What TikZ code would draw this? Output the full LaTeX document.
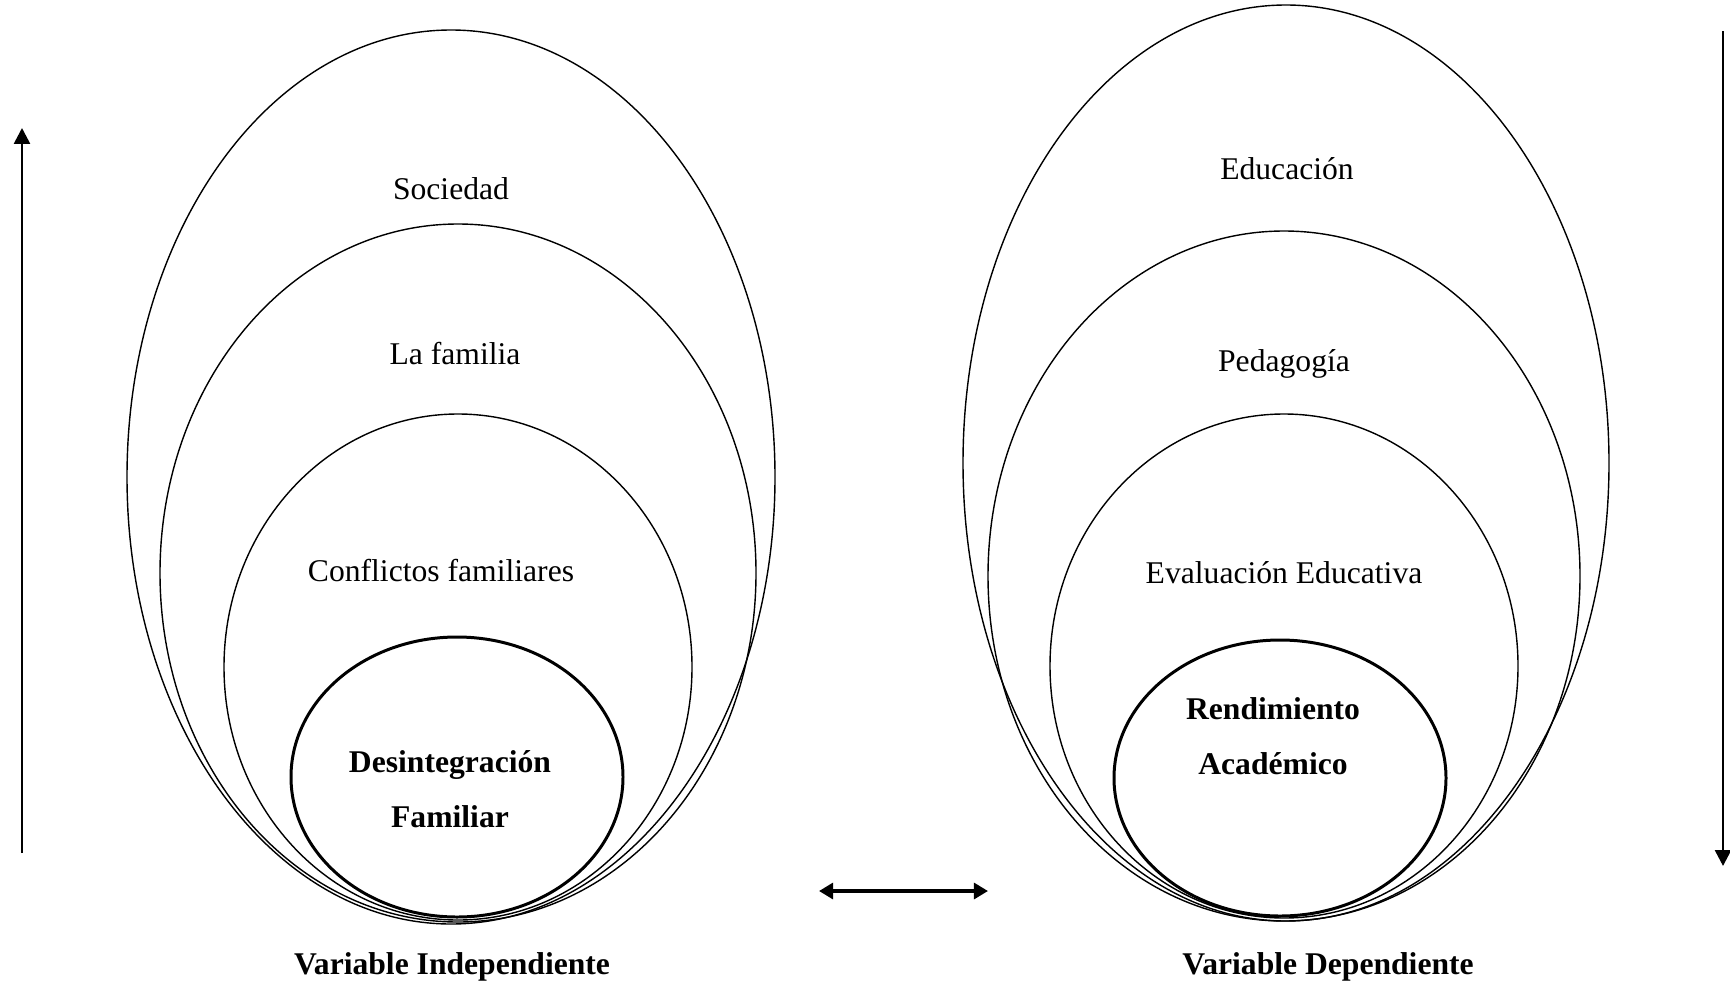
\documentclass[tikz,border=0pt]{standalone}
\usepackage{fontspec}
\setmainfont{Liberation Serif}
\usetikzlibrary{
  arrows.meta
}

\begin{document}
\begin{tikzpicture}[x=0.02cm, y=-0.02cm,
    ring/.style={line width=0.8pt},
    core/.style={line width=1.7pt},
    lbl/.style={anchor=base, inner sep=0pt, font=\fontsize{18}{22}\selectfont},
    blbl/.style={lbl, font=\fontsize{18}{22}\selectfont\bfseries},
    flow/.style={line width=1.5pt, -{Triangle[width=9pt,length=9pt]}},
    both/.style={line width=2pt, {Triangle[width=9pt,length=8pt]}-{Triangle[width=9pt,length=8pt]}}]
  \def\Xl{451};
  \def\Xr{1284};
  \def\Ycap{974};
  \useasboundingbox (0,0) rectangle (1730,984);

  % left side
        \draw[ring] (\Xl, 477) ellipse [x radius=324, y radius=447];
        \draw[ring] (\Xl + 7, 573) ellipse [x radius=298, y radius=349];
        \draw[ring] (\Xl + 7, 667) ellipse [x radius=234, y radius=253];
        \draw[core] (\Xl + 6, 777) ellipse [x radius=166, y radius=140];

        \node[lbl] (sociedad) at (\Xl, 199) {Sociedad};
        \node[lbl] (familia) at (\Xl + 4, 364) {La familia};
        \node[lbl] (conflictos) at (\Xl - 10, 581) {Conflictos familiares};
        \node[blbl] (desintA) at (\Xl - 1, 772) {Desintegración};
        \node[blbl] (desintB) at (\Xl - 1, 827) {Familiar};
        \node[blbl] (varind) at (\Xl + 1, \Ycap) {Variable Independiente};

  % right side
        \draw[ring] (\Xr + 2, 463) ellipse [x radius=323, y radius=458];
        \draw[ring] (\Xr, 576) ellipse [x radius=296, y radius=345];
        \draw[ring] (\Xr, 666) ellipse [x radius=234, y radius=252];
        \draw[core] (\Xr - 4, 778) ellipse [x radius=166, y radius=138];

        \node[lbl] (educacion) at (\Xr + 3, 179) {Educación};
        \node[lbl] (pedagogia) at (\Xr, 371) {Pedagogía};
        \node[lbl] (evaluacion) at (\Xr, 583) {Evaluación Educativa};
        \node[blbl] (rendimA) at (\Xr - 11, 719) {Rendimiento};
        \node[blbl] (rendimB) at (\Xr - 11, 774) {Académico};
        \node[blbl] (vardep) at (\Xr + 44, \Ycap) {Variable Dependiente};

  % arrows
        \coordinate (upA) at (22, 853);
        \coordinate (upB) at (22, 128);
        \coordinate (downA) at (1723, 31);
        \coordinate (downB) at (1723, 866);
        \coordinate (linkA) at (819, 891);
        \coordinate (linkB) at (988, 891);
	\draw[flow] (upA) -- (upB);
	\draw[flow] (downA) -- (downB);
	\draw[both] (linkA) -- (linkB);

\end{tikzpicture}
\end{document}
